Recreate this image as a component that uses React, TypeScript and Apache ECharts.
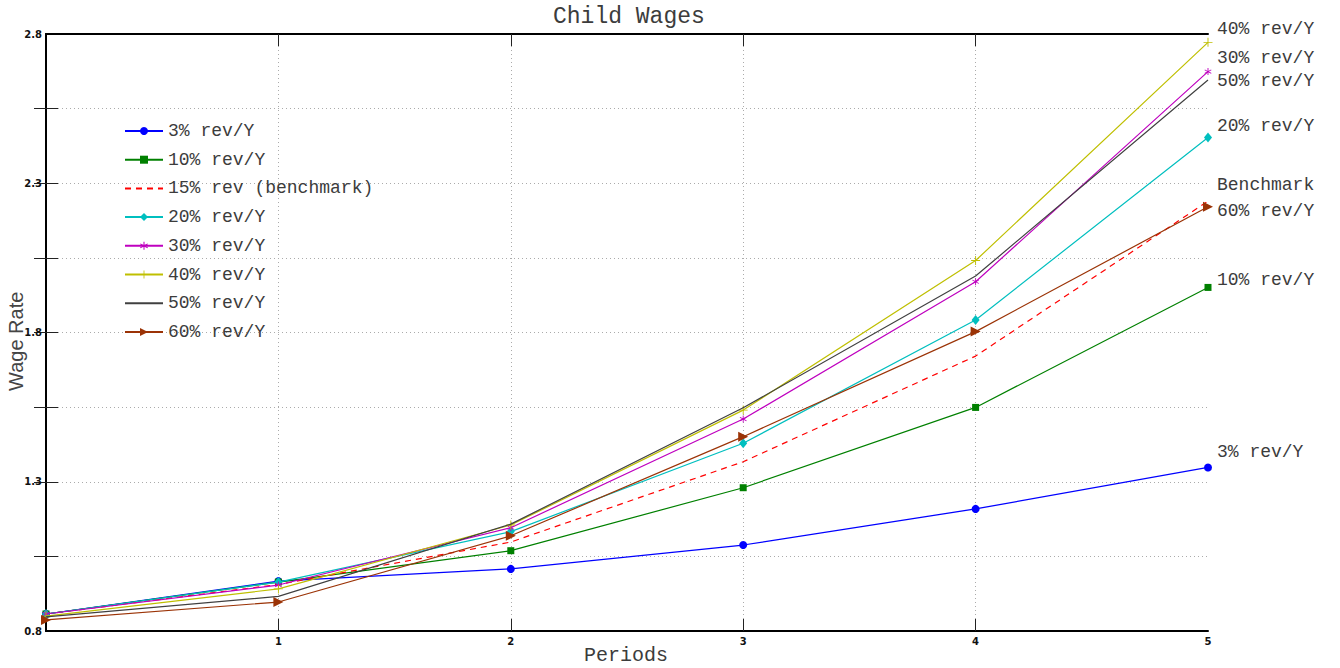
import React, { useEffect, useRef } from "react";
import * as echarts from "echarts";

// Periods on the horizontal axis
const periods = [0, 1, 2, 3, 4, 5];

// Wage rate per revision scenario
const wage3 = [0.857, 0.967, 1.008, 1.088, 1.209, 1.348];
const wage10 = [0.857, 0.964, 1.069, 1.28, 1.549, 1.951];
const wage15 = [0.857, 0.956, 1.098, 1.367, 1.721, 2.24];
const wage20 = [0.857, 0.964, 1.133, 1.429, 1.842, 2.453];
const wage30 = [0.857, 0.954, 1.146, 1.51, 1.97, 2.674];
const wage40 = [0.85, 0.941, 1.155, 1.54, 2.041, 2.772];
const wage50 = [0.847, 0.916, 1.158, 1.548, 1.989, 2.646];
const wage60 = [0.837, 0.897, 1.119, 1.451, 1.803, 2.221];

const seriesNames = [
  "3% rev/Y",
  "10% rev/Y",
  "15% rev (benchmark)",
  "20% rev/Y",
  "30% rev/Y",
  "40% rev/Y",
  "50% rev/Y",
  "60% rev/Y",
];
const endLabels = [
  "3% rev/Y",
  "10% rev/Y",
  "Benchmark",
  "20% rev/Y",
  "30% rev/Y",
  "40% rev/Y",
  "50% rev/Y",
  "60% rev/Y",
];

// Axis ticks
const xTickLabels = [1, 2, 3, 4, 5];
const xTicks = [1, 2, 3, 4];
const yTickLabels = [0.8, 1.3, 1.8, 2.3, 2.8];
const yTicks = [1.05, 1.3, 1.55, 1.8, 2.05, 2.3, 2.55];

const MONO = "'Liberation Mono', 'DejaVu Sans Mono', monospace";
const TEXT = "#3c3c3c";

const asterisk =
  "path://M4.4,0 L5.6,0 L5.6,3.96 L9.03,1.98 L9.63,3.02 L6.2,5 L9.63,6.98 L9.03,8.02 L5.6,6.04 L5.6,10 L4.4,10 L4.4,6.04 L0.97,8.02 L0.37,6.98 L3.8,5 L0.37,3.02 L0.97,1.98 L4.4,3.96 Z";
const plus = "path://M4.5,0 L5.5,0 L5.5,4.5 L10,4.5 L10,5.5 L5.5,5.5 L5.5,10 L4.5,10 L4.5,5.5 L0,5.5 L0,4.5 L4.5,4.5 Z";

const styles = [
  { data: wage3, color: "#0000ff", symbol: "circle", size: 8, rotate: 0, dash: "solid", dy: -15 },
  { data: wage10, color: "#008000", symbol: "rect", size: 7, rotate: 0, dash: "solid", dy: -7 },
  { data: wage15, color: "#ff0000", symbol: "none", size: 0, rotate: 0, dash: [6, 5], dy: -16 },
  { data: wage20, color: "#00bfbf", symbol: "diamond", size: [8, 10], rotate: 0, dash: "solid", dy: -12 },
  { data: wage30, color: "#bf00bf", symbol: asterisk, size: 7, rotate: 0, dash: "solid", dy: -14 },
  { data: wage40, color: "#bfbf00", symbol: plus, size: 9, rotate: 0, dash: "solid", dy: -13 },
  { data: wage50, color: "#404040", symbol: "none", size: 0, rotate: 0, dash: "solid", dy: 1 },
  { data: wage60, color: "#9b3306", symbol: "triangle", size: 10, rotate: -90, dash: "solid", dy: 4 },
];

const frameLine = { show: true, lineStyle: { color: "#000", width: 2 } };
const innerTick = (values: number[]) => ({
  show: true,
  inside: true,
  length: 12,
  customValues: values,
  lineStyle: { color: "#222", width: 1 },
});
const gridLine = (values: number[]) => ({
  show: true,
  customValues: values,
  lineStyle: { color: "#ababab", width: 1, type: [1, 3] },
});

export default function App() {
  const ref = useRef<HTMLDivElement>(null);

  useEffect(() => {
    if (!ref.current) return;
    const chart = echarts.init(ref.current, undefined, { renderer: "svg" });

    const series = styles.map((s, i) => ({
      name: seriesNames[i],
      type: "line",
      xAxisIndex: 0,
      yAxisIndex: 0,
      data: periods.map((p, k) => [p, s.data[k]]),
      symbol: s.symbol,
      symbolSize: s.size,
      symbolRotate: s.rotate,
      showSymbol: s.symbol !== "none",
      color: s.color,
      lineStyle: { color: s.color, width: 1.2, type: s.dash },
      itemStyle: { color: s.color },
      endLabel: {
        show: true,
        formatter: endLabels[i],
        distance: 9,
        offset: [0, s.dy],
        color: TEXT,
        fontFamily: MONO,
        fontSize: 18,
        align: "left",
      },
      emphasis: { disabled: true },
      z: 3 + i,
    }));

    // lines without markers get a plain line in the legend
    const legendData = seriesNames.map((name, i) =>
      styles[i].symbol === "none" ? { name, itemStyle: { opacity: 0 } } : { name }
    );

    chart.setOption({
      animation: false,
      backgroundColor: "#ffffff",
      grid: { left: 46, right: 132, top: 34, bottom: 37, containLabel: false },
      xAxis: [
        {
          type: "value",
          position: "bottom",
          min: 0,
          max: 5,
          interval: 1,
          axisLine: frameLine,
          axisTick: innerTick(xTicks),
          axisLabel: {
            customValues: xTickLabels,
            color: "#111",
            fontSize: 10,
            fontWeight: "bold",
            fontFamily: "'DejaVu Sans', sans-serif",
            margin: 5,
          },
          splitLine: gridLine(xTicks),
        },
        {
          type: "value",
          position: "top",
          min: 0,
          max: 5,
          interval: 1,
          axisLine: frameLine,
          axisTick: innerTick(xTicks),
          axisLabel: { show: false },
          splitLine: { show: false },
        },
      ],
      yAxis: [
        {
          type: "value",
          position: "left",
          min: 0.8,
          max: 2.8,
          axisLine: frameLine,
          axisTick: innerTick(yTicks),
          axisLabel: {
            customValues: yTickLabels,
            color: "#111",
            fontSize: 10,
            fontWeight: "bold",
            fontFamily: "'DejaVu Sans', sans-serif",
            margin: 4,
            formatter: (v: number) => v.toFixed(1),
          },
          splitLine: gridLine(yTicks),
        },
        {
          type: "value",
          position: "right",
          min: 0.8,
          max: 2.8,
          axisLine: frameLine,
          axisTick: innerTick(yTicks),
          axisLabel: { show: false },
          splitLine: { show: false },
        },
      ],
      legend: {
        orient: "vertical",
        left: 124,
        top: 122,
        padding: 0,
        itemWidth: 38,
        itemHeight: 10,
        itemGap: 10.7,
        data: legendData,
        textStyle: {
          color: TEXT,
          fontFamily: MONO,
          fontSize: 18,
          lineHeight: 18,
          padding: [0, 0, 0, 0],
        },
        selectedMode: false,
      },
      graphic: [
        {
          type: "text",
          left: 553,
          top: 5,
          style: { text: "Child Wages", fill: TEXT, font: `23px ${MONO}` },
        },
        {
          type: "text",
          left: 584,
          top: 645,
          style: { text: "Periods", fill: TEXT, font: `20px ${MONO}` },
        },
        {
          type: "text",
          x: 6,
          y: 391,
          rotation: Math.PI / 2,
          style: {
            text: "Wage Rate",
            fill: "#454545",
            font: "20px 'Liberation Sans', sans-serif",
          },
        },
      ],
      series,
    });

    return () => chart.dispose();
  }, []);

  return (
    <div
      ref={ref}
      style={{ position: "fixed", left: 0, top: 0, width: 1340, height: 668 }}
    />
  );
}
